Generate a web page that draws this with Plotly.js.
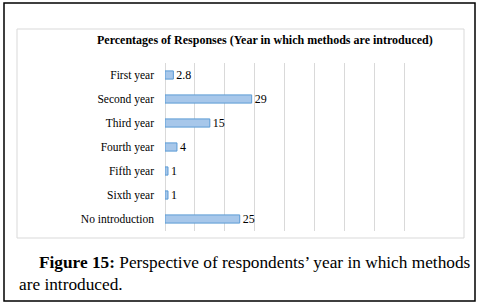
<!DOCTYPE html>
<html>
<head>
<meta charset="utf-8">
<script src="https://cdn.plot.ly/plotly-3.0.1.min.js"></script>
<style>html,body{margin:0;padding:0;background:#fff;}#chart{width:483px;height:305px;}</style>
</head>
<body>
<div id="chart"></div>
<script>
const categories = ["First year","Second year","Third year","Fourth year","Fifth year","Sixth year","No introduction"];
const values = [2.8, 29, 15, 4, 1, 1, 25];
const valueLabels = ["2.8","29","15","4","1","1","25"];
const chartTitle = "Percentages of Responses (Year in which methods are introduced)";
const captionBold = "Figure 15:";
const captionLine1 = " Perspective of respondents’ year in which methods";
const captionLine2 = "are introduced.";

const W = 483, H = 305;
const L = 165, R = 434, T = 63, B = 231;
const px = x => (x - L) / (R - L);
const py = y => (B - y) / (B - T);
const serif = "Liberation Serif, Times New Roman, serif";

const trace = {
  type: "bar",
  orientation: "h",
  y: categories,
  x: values,
  text: valueLabels,
  textposition: "outside",
  constraintext: "none",
  cliponaxis: false,
  textfont: {family: serif, size: 12, color: "#000"},
  marker: {color: "#a7c7ea", line: {color: "#5b9bd5", width: 1}},
  hoverinfo: "none"
};

const layout = {
  width: W, height: H,
  margin: {l: L, r: W - R, t: T, b: H - B, pad: 0},
  paper_bgcolor: "#fff", plot_bgcolor: "#fff",
  showlegend: false,
  bargap: 0.66,
  xaxis: {range: [0, 90], dtick: 10, showticklabels: false, showgrid: true, gridcolor: "#d9d9d9", gridwidth: 1,
          zeroline: true, zerolinecolor: "#d9d9d9", zerolinewidth: 1, showline: false, ticks: "", fixedrange: true},
  yaxis: {autorange: "reversed", showgrid: false, zeroline: false, showline: false, ticks: "", ticklen: 0,
          tickfont: {family: serif, size: 11.5, color: "#000"}, automargin: false, ticklabelstandoff: 10},
  shapes: [
    {type: "rect", xref: "paper", yref: "paper", x0: px(4), x1: px(475), y0: py(3), y1: py(301),
     line: {color: "#000", width: 1.5}, fillcolor: "rgba(0,0,0,0)"},
    {type: "rect", xref: "paper", yref: "paper", x0: px(17), x1: px(464), y0: py(29), y1: py(238),
     line: {color: "#d9d9d9", width: 1}, fillcolor: "rgba(0,0,0,0)"}
  ],
  annotations: [
    {text: "<b>" + chartTitle + "</b>", xref: "paper", yref: "paper", x: px(265), y: py(40),
     xanchor: "center", yanchor: "middle", showarrow: false, font: {family: serif, size: 12, color: "#000"}},
    {text: "<b>" + captionBold + "</b>" + captionLine1, xref: "paper", yref: "paper", x: px(37), y: py(262),
     xanchor: "left", yanchor: "middle", showarrow: false, font: {family: serif, size: 17.3, color: "#000"}},
    {text: captionLine2, xref: "paper", yref: "paper", x: px(17), y: py(284),
     xanchor: "left", yanchor: "middle", showarrow: false, font: {family: serif, size: 17.3, color: "#000"}}
  ]
};

Plotly.newPlot("chart", [trace], layout, {staticPlot: true, displayModeBar: false});
</script>
</body>
</html>
